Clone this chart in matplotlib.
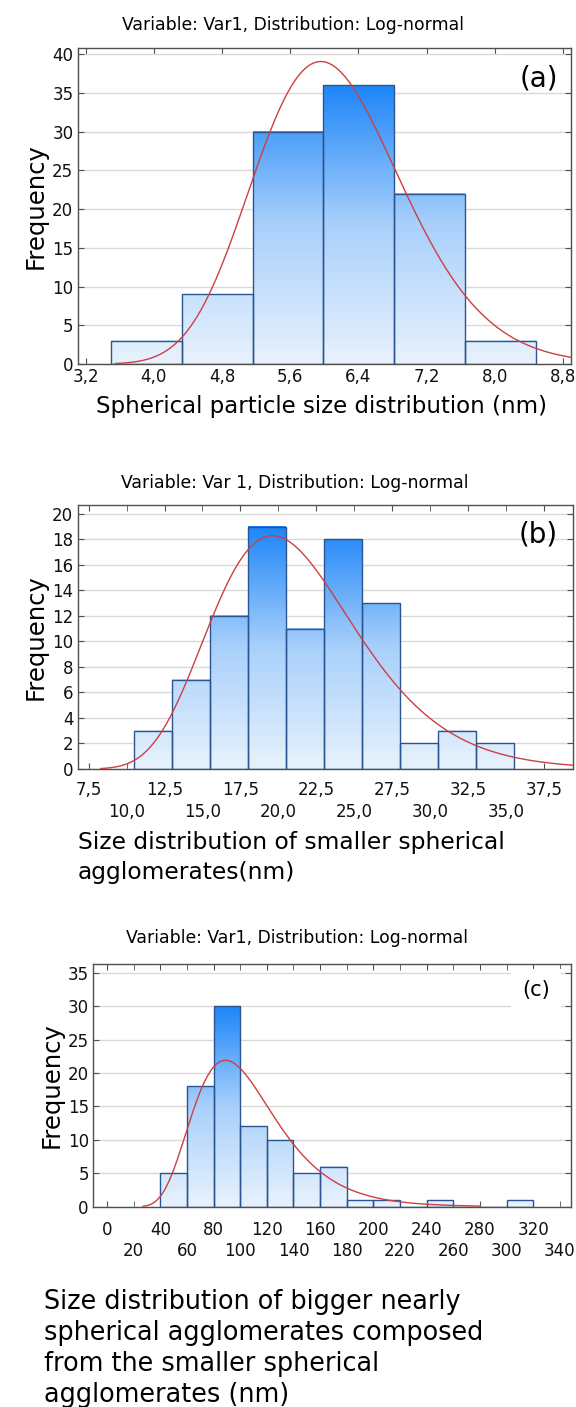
import numpy as np
import matplotlib
matplotlib.use('Agg')
import matplotlib.pyplot as plt
from matplotlib.colors import LinearSegmentedColormap

# =========================
# data
# =========================
# (a) spherical particles
a_edges = [3.50, 4.33, 5.16, 5.99, 6.82, 7.65, 8.48]
a_counts = [3, 9, 30, 36, 22, 3]
a_xticks = [3.2, 4.0, 4.8, 5.6, 6.4, 7.2, 8.0, 8.8]
a_xticklabels = ['3,2', '4,0', '4,8', '5,6', '6,4', '7,2', '8,0', '8,8']
a_yticks = [0, 5, 10, 15, 20, 25, 30, 35, 40]
a_fit = (1.806, 0.145)          # log-normal mu, sigma
a_fit_range = (3.55, 8.9)

# (b) smaller agglomerates
b_edges = [10.5, 13.0, 15.5, 18.0, 20.5, 23.0, 25.5, 28.0, 30.5, 33.0, 35.5]
b_counts = [3, 7, 12, 19, 11, 18, 13, 2, 3, 2]
b_xticks_row1 = [7.5, 12.5, 17.5, 22.5, 27.5, 32.5, 37.5]
b_xticklabels_row1 = ['7,5', '12,5', '17,5', '22,5', '27,5', '32,5', '37,5']
b_xticks_row2 = [10, 15, 20, 25, 30, 35]
b_xticklabels_row2 = ['10,0', '15,0', '20,0', '25,0', '30,0', '35,0']
b_yticks = [0, 2, 4, 6, 8, 10, 12, 14, 16, 18, 20]
b_fit = (3.035, 0.243)
b_fit_range = (8.3, 39.4)

# (c) bigger agglomerates
c_edges = [40, 60, 80, 100, 120, 140, 160, 180, 200, 220, 240, 260, 280, 300, 320]
c_counts = [5, 18, 30, 12, 10, 5, 6, 1, 1, 0, 1, 0, 0, 1]
c_xticks_row1 = [0, 40, 80, 120, 160, 200, 240, 280, 320]
c_xticklabels_row1 = ['0', '40', '80', '120', '160', '200', '240', '280', '320']
c_xticks_row2 = [20, 60, 100, 140, 180, 220, 260, 300, 340]
c_xticklabels_row2 = ['20', '60', '100', '140', '180', '220', '260', '300', '340']
c_yticks = [0, 5, 10, 15, 20, 25, 30, 35]
c_fit = (4.609, 0.347)
c_fit_range = (27, 280)

title_a = 'Variable: Var1, Distribution: Log-normal'
title_b = 'Variable: Var 1, Distribution: Log-normal'
title_c = 'Variable: Var1, Distribution: Log-normal'

plt.rcParams['font.family'] = ['DejaVu Sans']

W, H = 576, 1407
fig = plt.figure(figsize=(W / 100, H / 100), dpi=100)

bar_cmap = LinearSegmentedColormap.from_list('bars', ['#e8f2fd', '#a9d0fb', '#1e86f8'])
EDGE = '#2a5592'
CURVE = '#cc4040'
FRAME = '#505050'


def px_axes(left, right, top, bottom):
    return fig.add_axes([left / W, 1 - bottom / H, (right - left) / W, (bottom - top) / H])


def lognormal_counts(x, mu, sigma, n, width):
    pdf = np.exp(-(np.log(x) - mu) ** 2 / (2 * sigma ** 2)) / (x * sigma * np.sqrt(2 * np.pi))
    return pdf * n * width


def draw_hist(ax, edges, counts, fit, fit_range, xlim, ylim, yticks):
    top = max(counts)
    for x0, x1, h in zip(edges[:-1], edges[1:], counts):
        if h <= 0:
            continue
        grad = np.linspace(0, h, 200).reshape(-1, 1)
        ax.imshow(grad, extent=[x0, x1, 0, h], origin='lower', cmap=bar_cmap,
                  vmin=0, vmax=top, aspect='auto', zorder=2, interpolation='bilinear')
    widths = np.diff(edges)
    ax.bar(edges[:-1], counts, width=widths, align='edge', fill=False,
           edgecolor=EDGE, linewidth=1.0, zorder=3)
    xs = np.linspace(fit_range[0], fit_range[1], 400)
    ys = lognormal_counts(xs, fit[0], fit[1], sum(counts), widths.mean())
    ax.plot(xs, ys, color=CURVE, lw=1.0, zorder=4)

    ax.set_xlim(*xlim)
    ax.set_ylim(*ylim)
    ax.set_yticks(yticks)
    ax.set_yticklabels([str(v) for v in yticks])
    ax.yaxis.grid(True, color='#d9d9d9', lw=1.0, zorder=0)
    ax.set_axisbelow(True)
    for s in ax.spines.values():
        s.set_color(FRAME)
        s.set_linewidth(1.0)
    ax.tick_params(which='both', direction='in', length=4, top=True, right=True,
                   color=FRAME, labelsize=12, labelcolor='#111111', pad=3)
    ax.set_ylabel('Frequency', fontsize=17.5, labelpad=3)


# ---- (a) ----
ax_a = px_axes(77.5, 571, 48, 364)
draw_hist(ax_a, a_edges, a_counts, a_fit, a_fit_range, (3.105, 8.894), (0, 40.8), a_yticks)
ax_a.set_xticks(a_xticks)
ax_a.set_xticklabels(a_xticklabels)
fig.text(539 / W, 1 - 78 / H, '(a)', fontsize=20, ha='center', va='center')

# ---- (b) ----
ax_b = px_axes(77.5, 573, 505, 769)
draw_hist(ax_b, b_edges, b_counts, b_fit, b_fit_range, (6.77, 39.4), (0, 20.7), b_yticks)
ax_b.set_xticks(b_xticks_row1)
ax_b.set_xticklabels(b_xticklabels_row1)
ax_b.set_xticks(b_xticks_row2, minor=True)
ax_b.set_xticklabels(b_xticklabels_row2, minor=True)
ax_b.tick_params(axis='x', which='major', pad=8.5)
ax_b.tick_params(axis='x', which='minor', pad=24.5)
fig.text(538 / W, 1 - 535 / H, '(b)', fontsize=20, ha='center', va='center')

# ---- (c) ----
ax_c = px_axes(93, 571, 964, 1206.7)
draw_hist(ax_c, c_edges, c_counts, c_fit, c_fit_range, (-10.5, 348.3), (0, 36.3), c_yticks)
ax_c.set_xticks(c_xticks_row1)
ax_c.set_xticklabels(c_xticklabels_row1)
ax_c.set_xticks(c_xticks_row2, minor=True)
ax_c.set_xticklabels(c_xticklabels_row2, minor=True)
ax_c.tick_params(axis='x', which='major', pad=10.5)
ax_c.tick_params(axis='x', which='minor', pad=25.5)
fig.text(536 / W, 1 - 990 / H, '(c)', fontsize=15, ha='center', va='center', zorder=5,
         bbox=dict(boxstyle='square,pad=0.55', facecolor='white', edgecolor='none'))

# titles and axis captions
fig.text(293 / W, 1 - 25 / H, title_a, fontsize=12.4, ha='center', va='center')
fig.text(295 / W, 1 - 483 / H, title_b, fontsize=12.4, ha='center', va='center')
fig.text(297 / W, 1 - 938 / H, title_c, fontsize=12.4, ha='center', va='center')

fig.text(321 / W, 1 - 407 / H, 'Spherical particle size distribution (nm)',
         fontsize=16.5, ha='center', va='center')

fig.text(77.5 / W, 1 - 843 / H, 'Size distribution of smaller spherical',
         fontsize=16.8, ha='left', va='center')
fig.text(77.5 / W, 1 - 873 / H, 'agglomerates(nm)', fontsize=16.8, ha='left', va='center')

c_caption = ['Size distribution of bigger nearly',
             'spherical agglomerates composed',
             'from the smaller spherical',
             'agglomerates (nm)']
for i, line in enumerate(c_caption):
    fig.text(44 / W, 1 - (1302 + 31 * i) / H, line, fontsize=18.4, ha='left', va='center')

fig.savefig('out.png', dpi=100)
